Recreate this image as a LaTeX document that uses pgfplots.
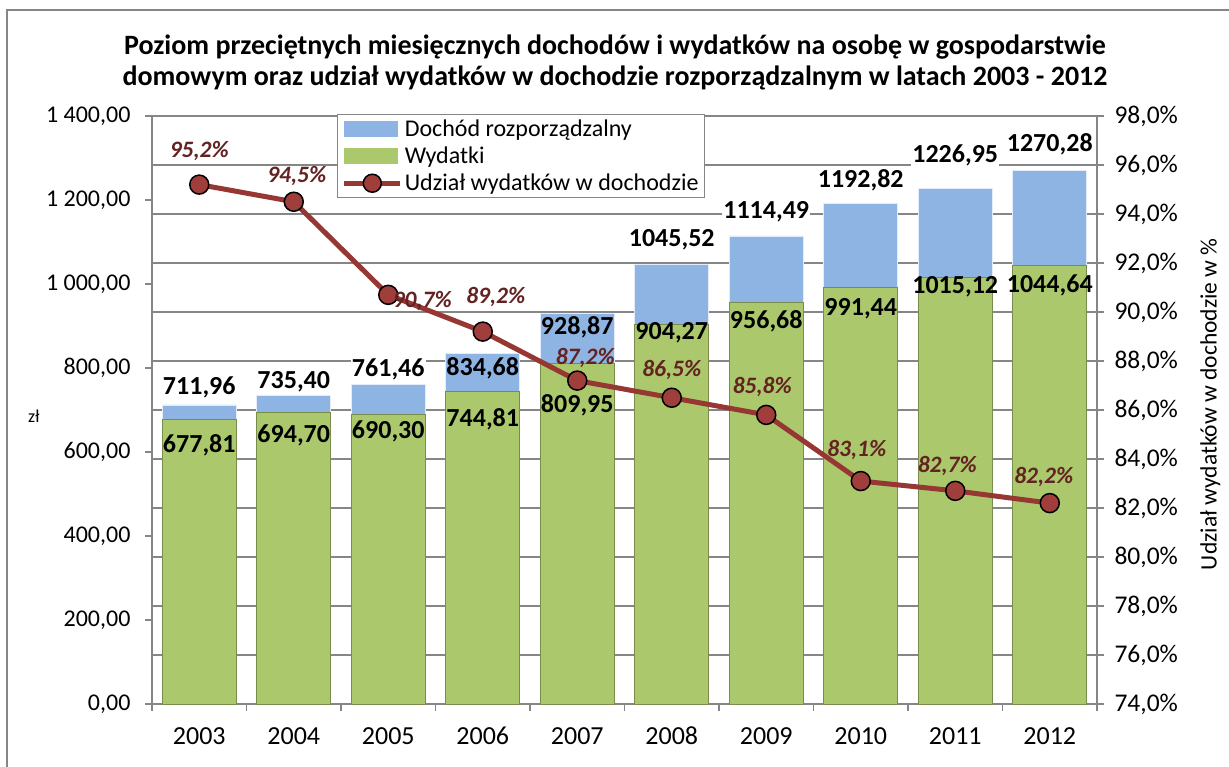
\documentclass[border=0pt]{standalone}
\usepackage{fontspec}
\setmainfont{Carlito}
\usepackage{pgfplots}
\usepackage{pgfplotstable}
\pgfplotsset{compat=1.18}

\definecolor{incblue}{RGB}{142,180,227}
\definecolor{expgreen}{RGB}{171,201,108}
\definecolor{linered}{RGB}{150,55,52}
\definecolor{markred}{RGB}{160,62,60}
\definecolor{labred}{RGB}{100,35,35}
\definecolor{axgray}{RGB}{134,134,134}

% year, income, expenses, share; label strings; label offsets (pt); white box flag
\pgfplotstableread{
x inc exp pct il el pl io eo px py bg
0 711.96 677.81 95.2 711,96 677,81 95,2 18 -26 0 34 1
1 735.40 694.70 94.5 735,40 694,70 94,5 13 -23 3 26 1
2 761.46 690.30 90.7 761,46 690,30 90,7 15 -17 34 -6 1
3 834.68 744.81 89.2 834,68 744,81 89,2 -15 -28 13 35 0
4 928.87 809.95 87.2 928,87 809,95 87,2 -13 -41 8 23 0
5 1045.52 904.27 86.5 1045,52 904,27 86,5 25 -9 0 28 1
6 1114.49 956.68 85.8 1114,49 956,68 85,8 24 -19 -4 28 1
7 1192.82 991.44 83.1 1192,82 991,44 83,1 23 -21 -4 31 1
8 1226.95 1015.12 82.7 1226,95 1015,12 82,7 33 -9 -8 25 1
9 1270.28 1044.64 82.2 1270,28 1044,64 82,2 26 -20 -6 26 1
}\data

\pgfplotsset{
  base/.style={
    at={(152pt,62pt)}, anchor=south west,
    scale only axis, width=945pt, height=588pt,
    xmin=-0.5, xmax=9.5,
    axis line style={draw=axgray, line width=1.3pt, -},
    tick style={draw=axgray, line width=1.3pt},
    major tick length=7pt, tick align=outside,
    ticklabel style={font=\fontsize{24}{25}\selectfont},
    clip=false,
  },
}

\begin{document}
\begin{tikzpicture}
\useasboundingbox (0,0) rectangle (1229pt,766pt);
\draw[axgray, line width=1.5pt] (7pt,-5pt) -- (7pt,756pt) -- (1240pt,756pt);
\node[font=\fontsize{28}{31}\selectfont\bfseries, align=center] at (615pt,704pt)
  {Poziom przeciętnych miesięcznych dochodów i wydatków na osobę w gospodarstwie\\
   domowym oraz udział wydatków w dochodzie rozporządzalnym w latach 2003 - 2012};

\begin{axis}[
  base,
  ymin=0, ymax=1400,
  axis x line*=bottom, axis y line*=left,
  ytick={0,200,...,1400},
  yticklabels={{0,00},{200,00},{400,00},{600,00},{800,00},{1 000,00},{1 200,00},{1 400,00}},
  yticklabel style={xshift=-11pt},
  xtick={-0.5,0.5,...,9.5}, xticklabels={},
  extra x ticks={0,1,...,9},
  extra x tick labels={2003,2004,2005,2006,2007,2008,2009,2010,2011,2012},
  extra x tick style={major tick length=0pt},
  xticklabel style={font=\fontsize{26}{28}\selectfont, text height=18pt, text depth=2pt, yshift=-19pt},
  extra y ticks={116.667,233.333,350,466.667,583.333,700,816.667,933.333,1050,1166.667,1283.333,1400},
  extra y tick labels={},
  extra y tick style={grid=major, major tick length=0pt},
  major grid style={draw=axgray, line width=1.2pt},
  ylabel={zł},
  ylabel style={rotate=-90, font=\fontsize{18}{19}\selectfont, at={(axis description cs:-0.125,0.49)}, anchor=center},
  nodes near coords style={font=\fontsize{26}{28}\selectfont\bfseries, anchor=center, inner sep=1pt},
]
\addplot[ybar, bar width=74pt, bar shift=0pt, fill=incblue, draw=white!75!incblue, line width=0.8pt,
  point meta=explicit symbolic, nodes near coords,
  visualization depends on={\thisrow{io} \as \dy},
  visualization depends on={\thisrow{bg} \as \bgo},
  every node near coord/.append style={yshift=\dy, fill=white, fill opacity=\bgo, text opacity=1}]
  table[x=x, y=inc, meta=il] {\data};
\addplot[ybar, bar width=74pt, bar shift=0pt, fill=expgreen, draw=black!30!expgreen, line width=0.8pt,
  point meta=explicit symbolic, nodes near coords,
  visualization depends on={\thisrow{eo} \as \dy},
  every node near coord/.append style={yshift=\dy}]
  table[x=x, y=exp, meta=el] {\data};
\end{axis}

\begin{axis}[
  base,
  ymin=74, ymax=98,
  axis x line=none, axis y line*=right,
  ytick={74,76,78,80,82,84,86,88,90,92,94,96,98},
  yticklabels={{74,0\%},{76,0\%},{78,0\%},{80,0\%},{82,0\%},{84,0\%},{86,0\%},{88,0\%},{90,0\%},{92,0\%},{94,0\%},{96,0\%},{98,0\%}},
  yticklabel style={font=\fontsize{25.5}{27}\selectfont, xshift=7pt},
  ylabel={Udział wydatków w dochodzie w \%},
  ylabel style={font=\fontsize{23.5}{25}\selectfont, at={(axis description cs:1.12,0.51)}, anchor=center, rotate=0},
  legend style={at={(axis description cs:0.196,1.003)}, anchor=north west,
    draw=axgray, line width=1.2pt, fill=white, font=\fontsize{24}{25}\selectfont,
    inner xsep=4pt, inner ysep=3pt, row sep=5pt, cells={anchor=west}},
  legend cell align=left,
  nodes near coords style={font=\fontsize{23.5}{25}\selectfont\bfseries\itshape, text=labred, anchor=center, inner sep=1pt},
]
\addlegendimage{legend image code/.code={\fill[incblue] (0pt,-7pt) rectangle (53pt,7pt);}}
\addlegendentry{Dochód rozporządzalny}
\addlegendimage{legend image code/.code={\fill[expgreen] (0pt,-7pt) rectangle (53pt,7pt);}}
\addlegendentry{Wydatki}
\addplot[linered, line width=5pt, mark=*, mark size=9.5pt,
  mark options={fill=markred, draw=black, line width=1.5pt},
  point meta=explicit symbolic, nodes near coords={\pgfplotspointmeta\%},
  visualization depends on={\thisrow{px} \as \dx},
  visualization depends on={\thisrow{py} \as \dy},
  every node near coord/.append style={xshift=\dx, yshift=\dy},
  legend image code/.code={\draw[linered, line width=5pt] (0pt,0pt) -- (56pt,0pt);
    \draw[fill=markred, draw=black, line width=1.5pt] (28pt,0pt) circle (9pt);}]
  table[x=x, y=pct, meta=pl] {\data};
\addlegendentry{Udział wydatków w dochodzie}
\end{axis}
\end{tikzpicture}
\end{document}
